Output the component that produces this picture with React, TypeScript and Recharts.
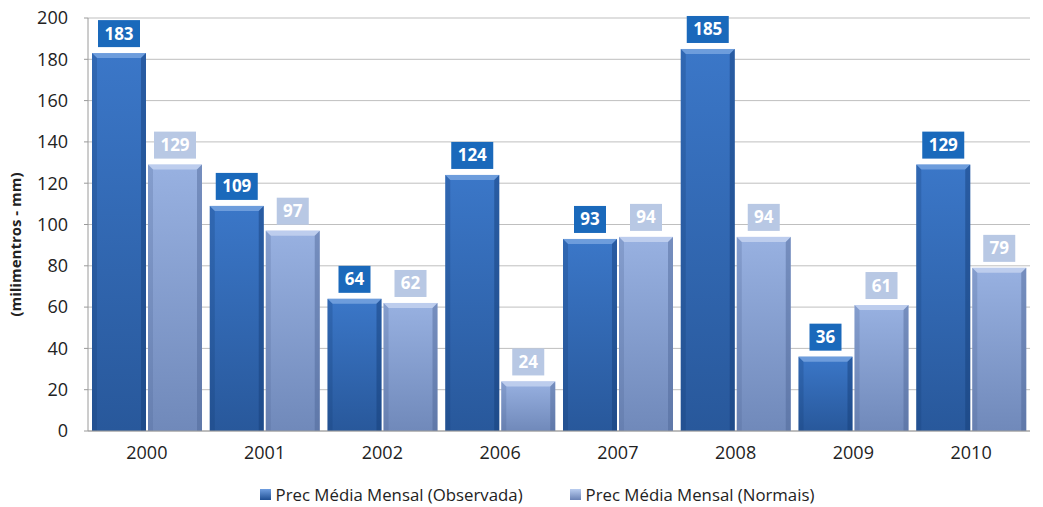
import React from "react";
import { BarChart, Bar, XAxis, YAxis, CartesianGrid, LabelList, Legend } from "recharts";

const years = ["2000", "2001", "2002", "2006", "2007", "2008", "2009", "2010"];
const observada = [183, 109, 64, 124, 93, 185, 36, 129];
const normais = [129, 97, 62, 24, 94, 94, 61, 79];
const yTicks = [0, 20, 40, 60, 80, 100, 120, 140, 160, 180, 200];
const seriesNames = ["Prec Média Mensal (Observada)", "Prec Média Mensal (Normais)"];

const data = years.map((y, i) => ({ year: y, obs: observada[i], norm: normais[i] }));

const FONT = "'Open Sans', sans-serif";

const makeShape = (grad: string, edgeLight: string, edgeDark: string) => (props: any) => {
  const { x, y, width, height } = props;
  if (!height || height <= 0) return null;
  const b = Math.min(5, height / 2);
  return (
    <g>
      <rect x={x} y={y} width={width} height={height} fill={`url(#${grad})`} />
      <polygon
        points={`${x},${y} ${x + width},${y} ${x + width - b},${y + b} ${x + b},${y + b}`}
        fill={edgeLight}
        opacity={0.75}
      />
      <polygon
        points={`${x},${y} ${x + b},${y + b} ${x + b},${y + height} ${x},${y + height}`}
        fill={edgeDark}
        opacity={0.25}
      />
      <polygon
        points={`${x + width},${y} ${x + width - b},${y + b} ${x + width - b},${y + height} ${x + width},${y + height}`}
        fill={edgeDark}
        opacity={0.45}
      />
    </g>
  );
};

const makeLabel = (boxColor: string) => (props: any) => {
  const { x, y, width, value } = props;
  const s = String(value);
  const w = s.length * 10 + 12;
  const h = 27;
  const cx = x + width / 2;
  const top = y - 6 - h;
  return (
    <g>
      <rect x={cx - w / 2} y={top} width={w} height={h} fill={boxColor} />
      <text
        x={cx}
        y={top + h / 2 + 6}
        textAnchor="middle"
        fill="#ffffff"
        fontFamily={FONT}
        fontWeight={700}
        fontSize={17}
      >
        {s}
      </text>
    </g>
  );
};

const LegendContent = () => {
  const items = [
    { name: seriesNames[0], grad: "legObs" },
    { name: seriesNames[1], grad: "legNorm" },
  ];
  return (
    <div style={{ display: "flex", justifyContent: "center", gap: 47, fontFamily: FONT, fontSize: 16.8, color: "#222", paddingLeft: 44 }}>
      {items.map((it) => (
        <div key={it.name} style={{ display: "flex", alignItems: "center" }}>
          <svg width={11} height={11} style={{ marginRight: 5 }}>
            <rect x={0} y={0} width={11} height={11} fill={`url(#${it.grad})`} />
          </svg>
          <span>{it.name}</span>
        </div>
      ))}
    </div>
  );
};

export default function App() {
  return (
    <div style={{ position: "absolute", left: 0, top: 0, width: 1043, height: 507, background: "#fff" }}>
      <svg width={0} height={0} style={{ position: "absolute" }}>
        <defs>
          <linearGradient id="legObs" x1="0" y1="0" x2="0" y2="1">
            <stop offset="0%" stopColor="#6f9ee0" />
            <stop offset="100%" stopColor="#1f4f93" />
          </linearGradient>
          <linearGradient id="legNorm" x1="0" y1="0" x2="0" y2="1">
            <stop offset="0%" stopColor="#b9cdf0" />
            <stop offset="100%" stopColor="#6a82b5" />
          </linearGradient>
        </defs>
      </svg>
      <BarChart
        width={1043}
        height={507}
        data={data}
        margin={{ top: 18, right: 13, left: 0, bottom: 2 }}
        barCategoryGap={4}
        barGap={2}
      >
        <defs>
          <linearGradient id="gObs" x1="0" y1="0" x2="0" y2="1">
            <stop offset="0%" stopColor="#3b77c8" />
            <stop offset="100%" stopColor="#28589b" />
          </linearGradient>
          <linearGradient id="gNorm" x1="0" y1="0" x2="0" y2="1">
            <stop offset="0%" stopColor="#98b1e1" />
            <stop offset="100%" stopColor="#7089ba" />
          </linearGradient>
        </defs>
        <CartesianGrid vertical={false} stroke="#bfbfbf" strokeWidth={1} />
        <XAxis
          dataKey="year"
          tickLine={false}
          axisLine={{ stroke: "#9a9a9a" }}
          tick={{ fontFamily: FONT, fontSize: 18, fill: "#222" }}
          tickMargin={9}
          height={52}
        />
        <YAxis
          domain={[0, 200]}
          ticks={yTicks}
          interval={0}
          width={88}
          tickSize={4}
          tickLine={{ stroke: "#9a9a9a" }}
          axisLine={{ stroke: "#9a9a9a" }}
          tick={{ fontFamily: FONT, fontSize: 18, fill: "#222" }}
          tickMargin={16}
          label={{
            value: "(milimentros - mm)",
            angle: -90,
            position: "insideLeft",
            offset: 16,
            dy: 20,
            style: { fontFamily: FONT, fontSize: 15, fontWeight: 700, fill: "#222", textAnchor: "middle" },
          }}
        />
        <Legend verticalAlign="bottom" height={22} content={LegendContent} />
        <Bar dataKey="obs" name={seriesNames[0]} isAnimationActive={false} shape={makeShape("gObs", "#7fa9e3", "#143c75")}>
          <LabelList dataKey="obs" content={makeLabel("#1a69bb")} />
        </Bar>
        <Bar dataKey="norm" name={seriesNames[1]} isAnimationActive={false} shape={makeShape("gNorm", "#c9d7f2", "#4c6494")}>
          <LabelList dataKey="norm" content={makeLabel("#b8c8e4")} />
        </Bar>
      </BarChart>
    </div>
  );
}
